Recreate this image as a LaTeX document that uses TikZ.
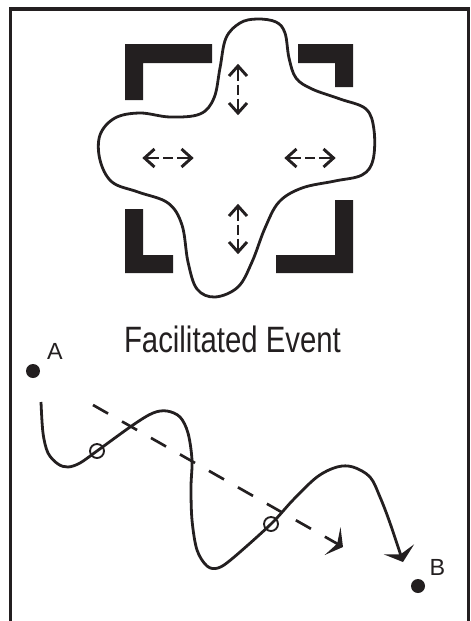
\documentclass[tikz,border=0pt]{standalone}
\usepackage{fontspec}
\setmainfont{Liberation Sans}
\newfontfamily\condfont[FakeStretch=0.8]{Liberation Sans}
\usetikzlibrary{arrows.meta}
\definecolor{ink}{RGB}{35,31,32}
\tikzset{
  frameline/.style={draw=ink, line width=2.3pt},
  bracket/.style={fill=ink, draw=none},
  blob/.style={draw=ink, line width=2.1pt},
  shaft/.style={draw=ink, line width=2.2pt,
    dash pattern=on 11pt off 3pt on 7.5pt off 3pt on 40pt},
  chev/.style={draw=ink, line width=2.2pt, line join=miter, miter limit=10},
  wave/.style={draw=ink, line width=2.1pt, -{Stealth[length=10pt,width=24pt,inset=4pt]}},
  dashedarrow/.style={draw=ink, line width=2pt, dash pattern=on 13pt off 12pt,
    -{Stealth[length=9pt,width=24pt,inset=4pt]}},
  dot/.style={circle, fill=ink, inner sep=0pt, minimum size=10.5pt},
  ring/.style={draw=ink, line width=1.4pt},
  lab/.style={text=ink, inner sep=0pt, font=\fontsize{17.5}{18}\selectfont},
  title/.style={text=ink, inner sep=0pt, font=\condfont\fontsize{27.5}{29}\selectfont}
}
\begin{document}
\begin{tikzpicture}[x=0.75pt,y=-0.75pt]
\useasboundingbox (0,0) rectangle (471,621);
% frame
\draw[frameline] (10.5,621) -- (10.5,9) -- (468.5,9) -- (468.5,621);
% brackets
\fill[bracket] (125,44) -- (212,44) -- (212,63) -- (143,63) -- (143,100) -- (125,100) -- cycle;
\fill[bracket] (298,44) -- (353,44) -- (353,87) -- (335,87) -- (335,63) -- (298,63) -- cycle;
\fill[bracket] (125,209) -- (143,209) -- (143,255) -- (173,255) -- (173,273) -- (125,273) -- cycle;
\fill[bracket] (335,200) -- (353,200) -- (353,273) -- (276,273) -- (276,255) -- (335,255) -- cycle;
% blob
\draw[blob] plot[smooth cycle, tension=0.6] coordinates {
 (240,23) (257,19) (276,22) (285,33) (289,58) (296,78) (312,89) (340,99) (366,109)
 (374,130) (373,160) (362,175) (335,181) (302,188) (279,202) (265,228) (252,262)
 (238,287) (215,297) (197,289) (188,262) (182,225) (168,203) (138,192) (112,182)
 (100,160) (100,135) (115,118) (140,113) (170,117) (200,114) (214,98) (220,68) (226,38)};
% double arrows
\coordinate (tv1) at (238,66);  \coordinate (tv2) at (238,113);
\coordinate (bv1) at (238,206); \coordinate (bv2) at (238,252);
\coordinate (lh1) at (144.5,158); \coordinate (lh2) at (191.5,158);
\coordinate (rh1) at (286.5,158); \coordinate (rh2) at (333.5,158);
\draw[shaft] (tv1) -- (tv2);
\draw[shaft] (bv1) -- (bv2);
\draw[shaft] (lh1) -- (lh2);
\draw[shaft] (rh1) -- (rh2);
\draw[chev] (tv1) ++(-9,10) -- (tv1) -- ++(9,10);
\draw[chev] (tv2) ++(-9,-10) -- (tv2) -- ++(9,-10);
\draw[chev] (bv1) ++(-9,10) -- (bv1) -- ++(9,10);
\draw[chev] (bv2) ++(-9,-10) -- (bv2) -- ++(9,-10);
\draw[chev] (lh1) ++(10,-9) -- (lh1) -- ++(10,9);
\draw[chev] (lh2) ++(-10,-9) -- (lh2) -- ++(-10,9);
\draw[chev] (rh1) ++(10,-9) -- (rh1) -- ++(10,9);
\draw[chev] (rh2) ++(-10,-9) -- (rh2) -- ++(-10,9);
% title
\node[title, anchor=base] (ttl) at (232.5,352) {Facilitated Event};
% points A and B
\node[dot] (dotA) at (33,371) {};
\node[lab, anchor=base] (labA) at (55,359) {A};
\node[dot] (dotB) at (418,586) {};
\node[lab, anchor=base] (labB) at (437.5,575) {B};
% wavy path
\coordinate (wstart) at (41,402);
\draw[wave] plot[smooth, tension=0.55] coordinates {
 (wstart) (43,433) (48,453) (58,464) (68,467) (80,463) (97,451) (133,425) (153,413)
 (167,411) (180,417) (188,433) (192,460) (191,487) (192,520) (197,550) (207,566)
 (218,568) (233,558) (271,524) (293,500) (317,477) (337,467) (353,467) (370,477)
 (380,497) (390,523) (403,562)};
\draw[ring] (97,451) circle[radius=7];
\draw[ring] (271,524) circle[radius=7];
% dashed arrow
\coordinate (dstart) at (93,405);
\coordinate (dend) at (343,547);
\draw[dashedarrow] (dstart) -- (dend);
\end{tikzpicture}
\end{document}
